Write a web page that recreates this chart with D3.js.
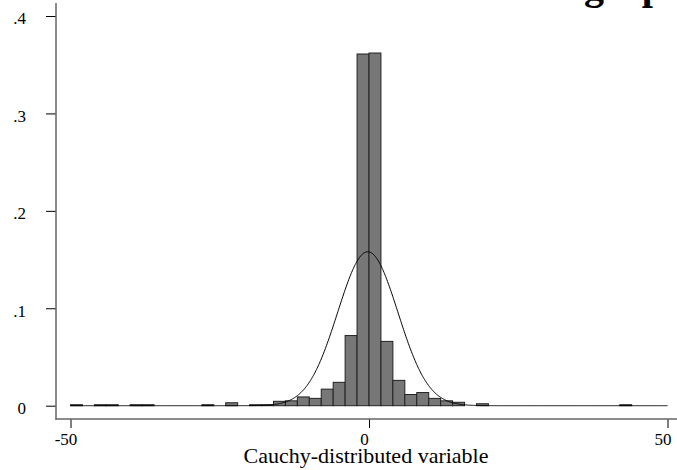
<!DOCTYPE html>
<html>
<head>
<meta charset="utf-8">
<script src="https://cdn.jsdelivr.net/npm/d3@7"></script>
<style>
  html, body { margin: 0; padding: 0; background: #fff; }
  svg { display: block; }
  text { font-family: "Liberation Serif", "Times New Roman", serif; fill: #000; }
</style>
</head>
<body>
<svg id="chart" width="677" height="470"></svg>
<script>
// Histogram of a Cauchy-distributed sample (fraction per bin) with a normal overlay.
const binWidth = 2;
const binLeft = [-50, -46, -44, -40, -38, -28, -24, -20, -18, -16, -14, -12, -10, -8, -6, -4, -2, 0, 2, 4, 6, 8, 10, 12, 14, 18, 42];
const binFraction = [0.001, 0.001, 0.001, 0.001, 0.001, 0.001, 0.003, 0.001, 0.001, 0.0045, 0.005, 0.009, 0.0075, 0.017, 0.024, 0.072, 0.361, 0.362, 0.066, 0.026, 0.0115, 0.0135, 0.0075, 0.005, 0.0035, 0.002, 0.001];

// Normal density overlay (scaled to fraction units by the bin width)
const normalMean = -0.2;
const normalSD = 5.05;
const curveRange = [-50, 50];

const xTicks = [-50, 0, 50];
const xTickLabels = ["-50", "0", "50"];
const yTicks = [0, 0.1, 0.2, 0.3, 0.4];
const yTickLabels = ["0", ".1", ".2", ".3", ".4"];
const xTitle = "Cauchy-distributed variable";
const chartTitle = "graph";

const svg = d3.select("#chart");

const x = d3.scaleLinear().domain([-50, 50]).range([70.5, 667.5]);
const y = d3.scaleLinear().domain([0, 0.4]).range([405.7, 16]);

// Bars
const bars = binLeft.map((b, i) => ({ left: b, value: binFraction[i] }));
svg.append("g")
  .selectAll("rect")
  .data(bars)
  .join("rect")
  .attr("x", d => x(d.left))
  .attr("width", d => x(d.left + binWidth) - x(d.left))
  .attr("y", d => y(d.value))
  .attr("height", d => y(0) - y(d.value))
  .attr("fill", "#777777")
  .attr("stroke", "#222")
  .attr("stroke-width", 1);

// Normal curve
const curvePts = d3.range(curveRange[0], curveRange[1] + 0.001, 0.1).map(v => {
  const z = (v - normalMean) / normalSD;
  return [v, binWidth * Math.exp(-0.5 * z * z) / (normalSD * Math.sqrt(2 * Math.PI))];
});
svg.append("path")
  .datum(curvePts)
  .attr("fill", "none")
  .attr("stroke", "#000")
  .attr("stroke-width", 1)
  .attr("d", d3.line().x(d => x(d[0])).y(d => y(d[1])));

// Y axis
const yAxis = d3.axisLeft(y)
  .tickValues(yTicks)
  .tickFormat((d, i) => yTickLabels[i])
  .tickSize(10)
  .tickPadding(20);
const gy = svg.append("g").attr("transform", "translate(56,0)").call(yAxis);
gy.select(".domain").remove();
gy.append("line")
  .attr("x1", 0).attr("x2", 0).attr("y1", 3).attr("y2", 419.5)
  .attr("stroke", "#666").attr("stroke-width", 1.5);
gy.selectAll(".tick line").attr("stroke", "#000");
gy.selectAll(".tick text")
  .attr("font-size", 17)
  .attr("font-family", "Liberation Serif, serif")
  .attr("fill", "#000")
  .attr("x", -30)
  .attr("y", 2.5);

// X axis
const xAxis = d3.axisBottom(x)
  .tickValues(xTicks)
  .tickFormat((d, i) => xTickLabels[i])
  .tickSize(9)
  .tickPadding(5);
const gx = svg.append("g").attr("transform", "translate(0,419)").call(xAxis);
gx.select(".domain").remove();
gx.append("line")
  .attr("x1", 55.25).attr("x2", 677).attr("y1", 0).attr("y2", 0)
  .attr("stroke", "#666").attr("stroke-width", 1.5);
gx.selectAll(".tick line").attr("stroke", "#000");
gx.selectAll(".tick text")
  .attr("font-size", 17)
  .attr("font-family", "Liberation Serif, serif")
  .attr("fill", "#000")
  .attr("dx", -5);

// Axis title
svg.append("text")
  .attr("x", 366)
  .attr("y", 463)
  .attr("text-anchor", "middle")
  .attr("font-size", 22)
  .text(xTitle);

// Title, running off the top edge
svg.append("text")
  .attr("x", 584)
  .attr("y", -1)
  .attr("font-size", 40)
  .attr("font-weight", "bold")
  .text(chartTitle);
</script>
</body>
</html>
